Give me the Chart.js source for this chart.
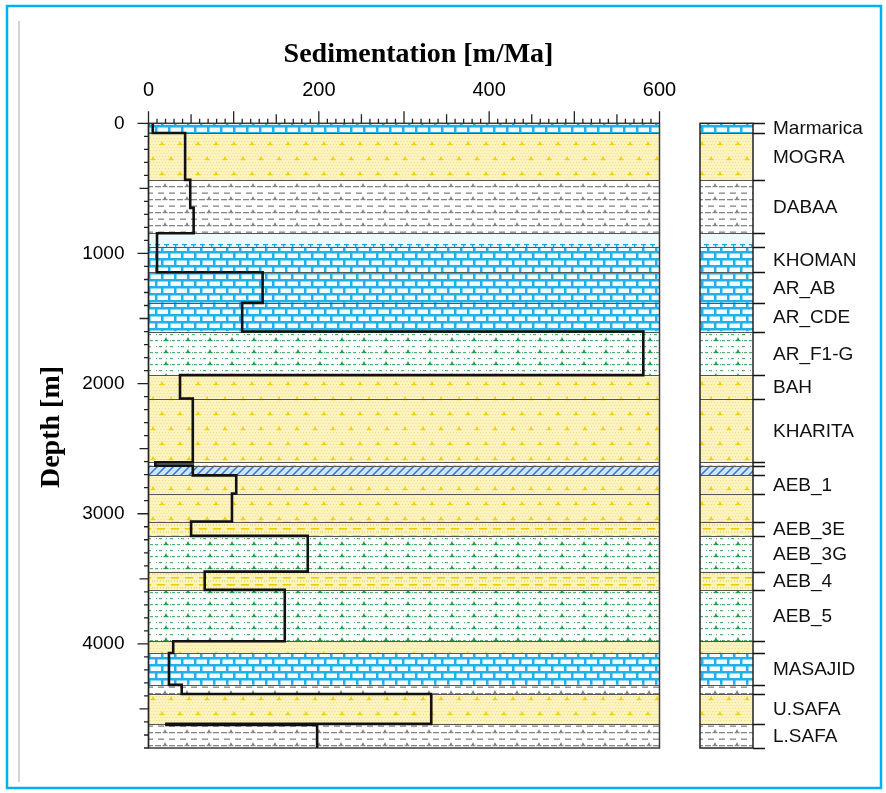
<!DOCTYPE html>
<html>
<head>
<meta charset="utf-8">
<script src="https://cdn.jsdelivr.net/npm/chart.js@4.4.1/dist/chart.umd.min.js"></script>
<style>
  html, body { margin: 0; padding: 0; background: #fff; }
  canvas { display: block; }
</style>
</head>
<body>
<canvas id="chart" width="886" height="793"></canvas>
<script>
// Formations: name, top and base depth (m), lithology
const formationNames  = ['Marmarica','MOGRA','DABAA','','KHOMAN','AR_AB','AR_CDE','AR_F1-G','BAH','KHARITA','','','AEB_1','','AEB_3E','AEB_3G','AEB_4','AEB_5','','MASAJID','','U.SAFA','L.SAFA'];
const formationTops   = [0,75,435,845,950,1145,1380,1600,1935,2115,2605,2630,2705,2845,3060,3170,3445,3585,3980,4070,4315,4385,4615];
const formationBases  = [75,435,845,950,1145,1380,1600,1935,2115,2605,2630,2705,2845,3060,3170,3445,3585,3980,4070,4315,4385,4615,4800];
const formationLitho  = ['limestone','sandstone','shale','marl','limestone','limestone','limestone','greenShale','sandstone','sandstone','shale','dolomite','sandstone','sandstone','siltySand','greenShale','siltySand','greenShale','sandstone','limestone','shale','sandstone','shale'];

// Sedimentation rate per depth interval (m/Ma)
const rateTops   = [0,75,435,650,845,1145,1380,1600,1935,2115,2605,2630,2705,2845,3060,3170,3445,3585,3980,4070,4315,4385,4615,4622];
const rateBases  = [75,435,650,845,1145,1380,1600,1935,2115,2605,2630,2705,2845,3060,3170,3445,3585,3980,4070,4315,4385,4615,4622,4800];
const rateValues = [5,43,49,53,10,134,110,581,37,52,8,52,103,98,50,187,66,160,29,24,39,332,21,198];

// Axis tick labels
const xTickValues = [0,200,400,600];
const yTickValues = [0,1000,2000,3000,4000];
const depthMax = 4800;

// Step profile: each interval becomes a vertical segment at its rate
const profilePoints = [];
rateValues.forEach((r, i) => {
  profilePoints.push({ x: r, y: rateTops[i] });
  profilePoints.push({ x: r, y: rateBases[i] });
});

// ---------- lithology fill patterns ----------
function makeTile(w, h, draw) {
  const c = document.createElement('canvas');
  c.width = w; c.height = h;
  const g = c.getContext('2d');
  draw(g, w, h);
  return c;
}
function mark(g, x, y, color) {         // small "⊥" sign
  g.fillStyle = color;
  g.fillRect(x - 2.5, y, 5, 1.2);
  g.beginPath();
  g.moveTo(x - 1.5, y); g.lineTo(x, y - 3); g.lineTo(x + 1.5, y); g.closePath();
  g.fill();
}
function dots(g, w, h, color, step) {
  g.fillStyle = color;
  for (let i = 0; i < w; i += step)
    for (let j = 0; j < h; j += step) g.fillRect(i + ((j / step) % 2 ? step / 2 : 0), j, 1, 1);
}
const tiles = {
  limestone: makeTile(26, 14, (g, w, h) => {
    g.fillStyle = '#22b0ea'; g.fillRect(0, 0, w, h);
    g.fillStyle = '#f2fbff';
    g.fillRect(1.5, 1.5, 10.5, 4.5); g.fillRect(14.5, 1.5, 10.5, 4.5);
    g.fillRect(-5.5, 8.5, 10.5, 4.5); g.fillRect(7.5, 8.5, 10.5, 4.5); g.fillRect(20.5, 8.5, 10.5, 4.5);
  }),
  marl: makeTile(9, 14, (g, w, h) => {
    g.fillStyle = '#eef9fe'; g.fillRect(0, 0, w, h);
    g.fillStyle = '#1fa6e0';
    g.fillRect(2, 6, 5, 1.3); g.fillRect(4, 6, 1.3, 4);
  }),
  dolomite: makeTile(8, 8, (g, w, h) => {
    g.fillStyle = '#cde5fb'; g.fillRect(0, 0, w, h);
    g.strokeStyle = '#2c6fd8'; g.lineWidth = 1.4;
    g.beginPath();
    g.moveTo(0, 8); g.lineTo(8, 0);
    g.moveTo(-4, 4); g.lineTo(4, -4);
    g.moveTo(4, 12); g.lineTo(12, 4);
    g.stroke();
  }),
  sandstone: makeTile(36, 30, (g, w, h) => {
    g.fillStyle = '#fcf3bf'; g.fillRect(0, 0, w, h);
    dots(g, w, h, '#eadd88', 3);
    const c = '#f0d200';
    mark(g, 9, 9, c); mark(g, 27, 9, c);
    mark(g, 0, 24, c); mark(g, 18, 24, c); mark(g, 36, 24, c);
  }),
  siltySand: makeTile(14, 7, (g, w, h) => {
    g.fillStyle = '#fcf3bf'; g.fillRect(0, 0, w, h);
    dots(g, w, h, '#eadd88', 3);
    g.fillStyle = '#ecce00';
    g.fillRect(3, 3, 8, 1.6);
  }),
  shale: makeTile(22, 13, (g, w, h) => {
    g.fillStyle = '#ffffff'; g.fillRect(0, 0, w, h);
    g.fillStyle = '#858585';
    g.fillRect(1, 4, 6, 1.3); g.fillRect(15, 4, 6, 1.3);
    mark(g, 11, 4, '#858585');
    g.fillStyle = '#858585';
    g.fillRect(4, 10.5, 6, 1.3); g.fillRect(15, 10.5, 6, 1.3);
  }),
  greenShale: makeTile(22, 12, (g, w, h) => {
    g.fillStyle = '#ffffff'; g.fillRect(0, 0, w, h);
    g.fillStyle = '#4cb56b';
    g.fillRect(1, 4, 3, 1.2); g.fillRect(7, 4, 1, 1.2); g.fillRect(16, 4, 1, 1.2); g.fillRect(18, 4, 3, 1.2);
    mark(g, 12, 4, '#23994a');
    g.fillStyle = '#4cb56b';
    g.fillRect(2, 10, 1, 1.2); g.fillRect(5, 10, 3, 1.2); g.fillRect(12, 10, 1, 1.2); g.fillRect(16, 10, 3, 1.2);
  })
};
const patternCache = {};
function patternFor(ctx, kind) {
  if (!patternCache[kind]) patternCache[kind] = ctx.createPattern(tiles[kind], 'repeat');
  return patternCache[kind];
}

// ---------- plugin: lithology bands, formation column, ticks, titles ----------
const lithologyPlugin = {
  id: 'lithology',
  beforeDraw(chart) {
    const ctx = chart.ctx;
    ctx.save();
    ctx.fillStyle = '#ffffff';
    ctx.fillRect(0, 0, chart.width, chart.height);
    // page frame
    ctx.strokeStyle = '#00b0f0'; ctx.lineWidth = 2.5;
    ctx.strokeRect(7, 6, 874, 782);
    ctx.strokeStyle = '#d4d4d4'; ctx.lineWidth = 2;
    ctx.beginPath(); ctx.moveTo(19, 21); ctx.lineTo(19, 782); ctx.stroke();
    ctx.restore();
  },
  beforeDatasetsDraw(chart) {
    const { ctx, chartArea: a, scales: { y } } = chart;
    const colL = a.right + 40.5, colR = a.right + 93.5;
    ctx.save();
    formationTops.forEach((top, i) => {
      const y0 = y.getPixelForValue(top), y1 = y.getPixelForValue(formationBases[i]);
      ctx.fillStyle = patternFor(ctx, formationLitho[i]);
      ctx.fillRect(a.left, y0, a.right - a.left, y1 - y0);
      ctx.fillRect(colL, y0, colR - colL, y1 - y0);
    });
    // bed boundaries
    ctx.strokeStyle = '#555'; ctx.lineWidth = 1;
    formationTops.forEach((top, i) => {
      if (i === 0) return;
      const py = Math.round(y.getPixelForValue(top)) + 0.5;
      ctx.beginPath();
      ctx.moveTo(a.left, py); ctx.lineTo(a.right, py);
      ctx.moveTo(colL, py); ctx.lineTo(colR, py);
      ctx.stroke();
    });
    // frames
    ctx.strokeStyle = '#3a3a3a'; ctx.lineWidth = 1.5;
    ctx.strokeRect(a.left, a.top, a.right - a.left, a.bottom - a.top);
    ctx.strokeStyle = '#222'; ctx.lineWidth = 1.5;
    ctx.strokeRect(colL, a.top, colR - colL, a.bottom - a.top);
    ctx.restore();
  },
  afterDraw(chart) {
    const { ctx, chartArea: a, scales: { x, y } } = chart;
    const colR = a.right + 93.5;
    ctx.save();
    ctx.strokeStyle = '#222'; ctx.lineWidth = 1.3;
    // depth axis line and ticks
    ctx.beginPath();
    ctx.moveTo(a.left, a.top - 11); ctx.lineTo(a.left, a.bottom);
    for (let d = 0; d <= depthMax; d += 100) {
      const py = y.getPixelForValue(d);
      const len = d % 1000 === 0 ? 11 : (d % 500 === 0 ? 9 : 4.5);
      ctx.moveTo(a.left - len, py); ctx.lineTo(a.left, py);
    }
    // sedimentation axis ticks (pointing up)
    for (let v = 0; v <= 600; v += 10) {
      const px = x.getPixelForValue(v);
      const len = v % 100 === 0 ? 12 : (v % 50 === 0 ? 9 : 4.5);
      ctx.moveTo(px, a.top - len); ctx.lineTo(px, a.top);
    }
    ctx.stroke();
    // formation column ticks and names
    ctx.strokeStyle = '#111'; ctx.lineWidth = 1.5;
    ctx.beginPath();
    formationTops.concat([depthMax]).forEach(d => {
      const py = Math.round(y.getPixelForValue(d)) + 0.5;
      ctx.moveTo(colR, py); ctx.lineTo(colR + 12, py);
    });
    ctx.stroke();
    ctx.fillStyle = '#111';
    ctx.font = '19px "Liberation Sans", Arial, sans-serif';
    ctx.textAlign = 'left'; ctx.textBaseline = 'middle';
    formationNames.forEach((name, i) => {
      if (!name) return;
      const py = y.getPixelForValue((formationTops[i] + formationBases[i]) / 2);
      ctx.fillText(name, colR + 20, py + 1);
    });
    // axis titles
    ctx.fillStyle = '#000';
    ctx.font = 'bold 28px "Liberation Serif", "Times New Roman", serif';
    ctx.textAlign = 'center'; ctx.textBaseline = 'alphabetic';
    ctx.fillText('Sedimentation [m/Ma]', a.left + 270, 62);
    ctx.translate(59, 427);
    ctx.rotate(-Math.PI / 2);
    ctx.fillText('Depth [m]', 0, 0);
    ctx.restore();
  }
};

new Chart(document.getElementById('chart'), {
  type: 'scatter',
  data: {
    datasets: [{
      label: 'Sedimentation rate',
      data: profilePoints,
      showLine: true,
      borderColor: '#111',
      borderWidth: 2.6,
      pointRadius: 0,
      fill: false,
      tension: 0
    }]
  },
  options: {
    responsive: false,
    animation: false,
    layout: { padding: { left: 0, top: 0, right: 226.5, bottom: 45 } },
    plugins: { legend: { display: false }, tooltip: { enabled: false } },
    scales: {
      x: {
        type: 'linear', position: 'top', min: 0, max: 600,
        afterBuildTicks: s => { s.ticks = xTickValues.map(v => ({ value: v })); },
        afterFit: s => { s.height = 123.3; },
        grid: { display: false, drawTicks: false, tickLength: 0 },
        border: { display: false },
        ticks: { font: { family: '"Liberation Sans", Arial, sans-serif', size: 20 }, color: '#000', padding: 21, maxRotation: 0, autoSkip: false, callback: v => String(v) }
      },
      y: {
        type: 'linear', reverse: true, min: 0, max: depthMax,
        afterBuildTicks: s => { s.ticks = yTickValues.map(v => ({ value: v })); },
        afterFit: s => { s.width = 148.5; },
        grid: { display: false, drawTicks: false, tickLength: 0 },
        border: { display: false },
        ticks: { font: { family: '"Liberation Sans", Arial, sans-serif', size: 19 }, color: '#000', padding: 24, autoSkip: false, callback: v => String(v) }
      }
    }
  },
  plugins: [lithologyPlugin]
});
</script>
</body>
</html>
